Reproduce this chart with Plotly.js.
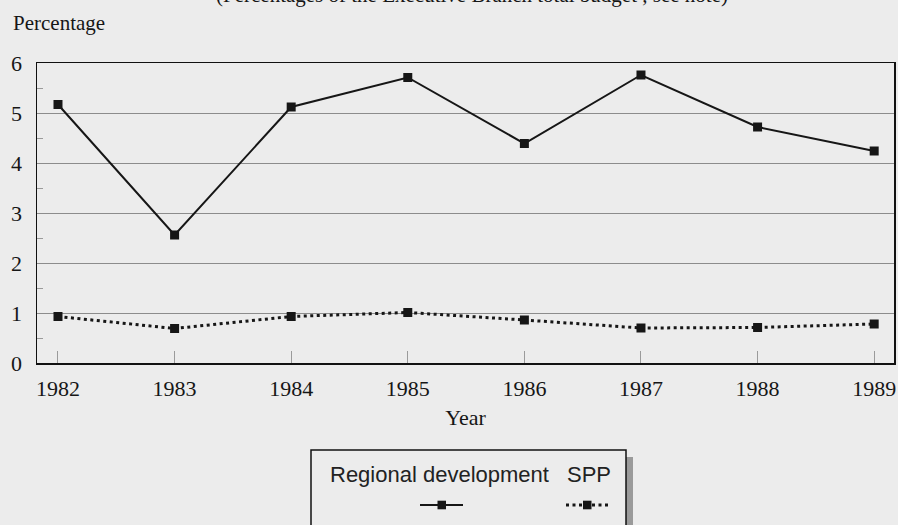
<!DOCTYPE html>
<html>
<head>
<meta charset="utf-8">
<script src="https://cdn.plot.ly/plotly-3.0.1.min.js"></script>
<style>html,body{margin:0;padding:0;background:#ececec;}#chart{width:898px;height:525px;}</style>
</head>
<body>
<div id="chart"></div>
<script>
// ---- data ----
const years = [1982, 1983, 1984, 1985, 1986, 1987, 1988, 1989];
const yearLabels = ["1982", "1983", "1984", "1985", "1986", "1987", "1988", "1989"];
const regionalDevelopment = [5.17, 2.56, 5.12, 5.71, 4.39, 5.76, 4.72, 4.24];
const spp = [0.93, 0.69, 0.93, 1.01, 0.86, 0.70, 0.71, 0.78];
const seriesNames = ["Regional development", "SPP"];
const titleText = "(Percentages of the Executive Branch total budget , see note)";
const yTitleText = "Percentage";
const xTitleText = "Year";

// ---- layout helpers (pixel -> paper) ----
const W = 898, H = 525;
const M = {l: 37, r: 4, t: 63, b: 162};
const PW = W - M.l - M.r, PH = H - M.t - M.b;
const px = x => (x - M.l) / PW;
const py = y => (H - M.b - y) / PH;

const ink = '#161616';
const serif = 'Liberation Serif, Times New Roman, serif';
const sans = 'Liberation Sans, Arial, sans-serif';

const traces = [
  {x: years, y: regionalDevelopment, name: seriesNames[0], type: 'scatter', mode: 'lines+markers',
   line: {color: ink, width: 2}, marker: {symbol: 'square', size: 9, color: ink}},
  {x: years, y: spp, name: seriesNames[1], type: 'scatter', mode: 'lines+markers',
   line: {color: ink, width: 3, dash: '3px,3.5px'}, marker: {symbol: 'square', size: 9, color: ink}}
];

const shapes = [
  // legend shadow
  {type: 'rect', xref: 'paper', yref: 'paper', x0: px(626), x1: px(633), y0: py(457), y1: py(540),
   fillcolor: '#9a9a9a', line: {width: 0}},
  // legend box
  {type: 'rect', xref: 'paper', yref: 'paper', x0: px(311), x1: px(626), y0: py(450), y1: py(540),
   fillcolor: '#ececec', line: {color: '#111', width: 1.5}},
  // legend samples
  {type: 'line', xref: 'paper', yref: 'paper', x0: px(420), x1: px(463), y0: py(505), y1: py(505),
   line: {color: ink, width: 2}},
  {type: 'rect', xref: 'paper', yref: 'paper', x0: px(437.5), x1: px(446), y0: py(500.7), y1: py(509.3),
   fillcolor: ink, line: {width: 0}},
  {type: 'line', xref: 'paper', yref: 'paper', x0: px(566), x1: px(611), y0: py(505), y1: py(505),
   line: {color: ink, width: 3, dash: '3px,3.5px'}},
  {type: 'rect', xref: 'paper', yref: 'paper', x0: px(583), x1: px(591.5), y0: py(500.7), y1: py(509.3),
   fillcolor: ink, line: {width: 0}}
];

const annotations = [
  {text: titleText, xref: 'paper', yref: 'paper', x: px(472), y: py(-5), xanchor: 'center', yanchor: 'middle',
   showarrow: false, font: {family: serif, size: 21, color: ink}},
  {text: yTitleText, xref: 'paper', yref: 'paper', x: px(11), y: py(23), xanchor: 'left', yanchor: 'middle',
   showarrow: false, font: {family: serif, size: 21, color: ink}},
  {text: seriesNames[0], xref: 'paper', yref: 'paper', x: px(328), y: py(474), xanchor: 'left', yanchor: 'middle',
   showarrow: false, font: {family: sans, size: 22, color: '#222'}},
  {text: seriesNames[1], xref: 'paper', yref: 'paper', x: px(565), y: py(474), xanchor: 'left', yanchor: 'middle',
   showarrow: false, font: {family: sans, size: 22, color: '#222'}}
];

const layout = {
  width: W, height: H,
  margin: M,
  paper_bgcolor: '#ececec',
  plot_bgcolor: '#ececec',
  showlegend: false,
  xaxis: {
    range: [1981.82, 1989.17],
    tickvals: years, ticktext: yearLabels,
    ticks: 'inside', ticklen: 12, tickcolor: '#9a9a9a', tickwidth: 1,
    showline: true, mirror: true, linecolor: '#111', linewidth: 1.5,
    showgrid: false, zeroline: false,
    tickfont: {family: serif, size: 22, color: ink},
    ticklabelstandoff: 5,
    title: {text: xTitleText, font: {family: serif, size: 22, color: ink}, standoff: 9}
  },
  yaxis: {
    range: [0, 6], dtick: 1, tick0: 0,
    ticks: '', showgrid: true, gridcolor: '#8c8c8c', gridwidth: 1,
    minor: {dtick: 0.5, tick0: 0, ticks: 'inside', ticklen: 6, tickcolor: '#9a9a9a', tickwidth: 1, showgrid: false},
    showline: true, mirror: true, linecolor: '#111', linewidth: 1.5,
    zeroline: false,
    tickfont: {family: serif, size: 22, color: ink},
    ticklabelstandoff: 9
  },
  shapes: shapes,
  annotations: annotations
};

Plotly.newPlot('chart', traces, layout, {staticPlot: true, displayModeBar: false});
</script>
</body>
</html>
